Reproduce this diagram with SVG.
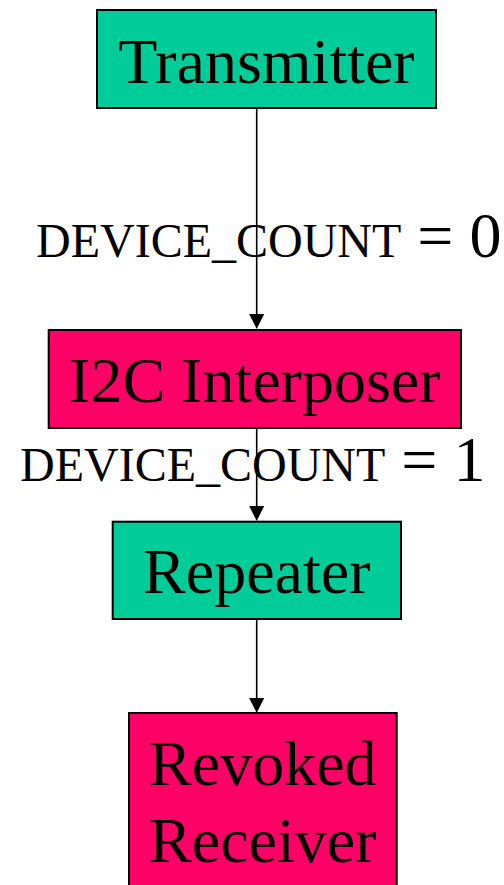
<svg xmlns="http://www.w3.org/2000/svg" width="504" height="885" viewBox="0 0 504 885">
<style>
.box{stroke:#000;stroke-width:2}
.green{fill:#00cc99}
.pink{fill:#ff0066}
.lbl{font-family:"Liberation Serif","Times New Roman",serif;font-size:64px;fill:#000;text-anchor:middle}
.elbl{font-family:"Liberation Serif","Times New Roman",serif;font-size:48px;fill:#000}
.big{font-size:64px}
.edge{stroke:#000;stroke-width:1.6;fill:none}
</style>
<rect width="504" height="885" fill="#fff"/>
<g id="connectors">
<line class="edge" x1="256.7" y1="108" x2="256.7" y2="316"/>
<polygon points="249.2,314 264.2,314 256.7,329" fill="#000"/>
<line class="edge" x1="256.7" y1="428" x2="256.7" y2="508"/>
<polygon points="249.2,506 264.2,506 256.7,521" fill="#000"/>
<line class="edge" x1="256.7" y1="619" x2="256.7" y2="700"/>
<polygon points="249.2,698 264.2,698 256.7,713" fill="#000"/>
<text class="elbl" x="36" y="257">DEVICE_COUNT<tspan class="big"> = 0</tspan></text>
<text class="elbl" x="20" y="481">DEVICE_COUNT<tspan class="big"> = 1</tspan></text>
</g>
<g id="transmitter">
<rect class="box green" x="97" y="10" width="339" height="98"/>
<text class="lbl" x="266.5" y="83">Transmitter</text>
</g>
<g id="interposer">
<rect class="box pink" x="48.7" y="330" width="412.3" height="98"/>
<text class="lbl" x="254.8" y="402">I2C Interposer</text>
</g>
<g id="repeater">
<rect class="box green" x="112.7" y="521.7" width="288.3" height="97.3"/>
<text class="lbl" x="256.8" y="593">Repeater</text>
</g>
<g id="revoked">
<rect class="box pink" x="129" y="713" width="267.7" height="190"/>
<text class="lbl" x="262.8" y="785">Revoked</text>
<text class="lbl" x="262.8" y="862">Receiver</text>
</g>
</svg>
